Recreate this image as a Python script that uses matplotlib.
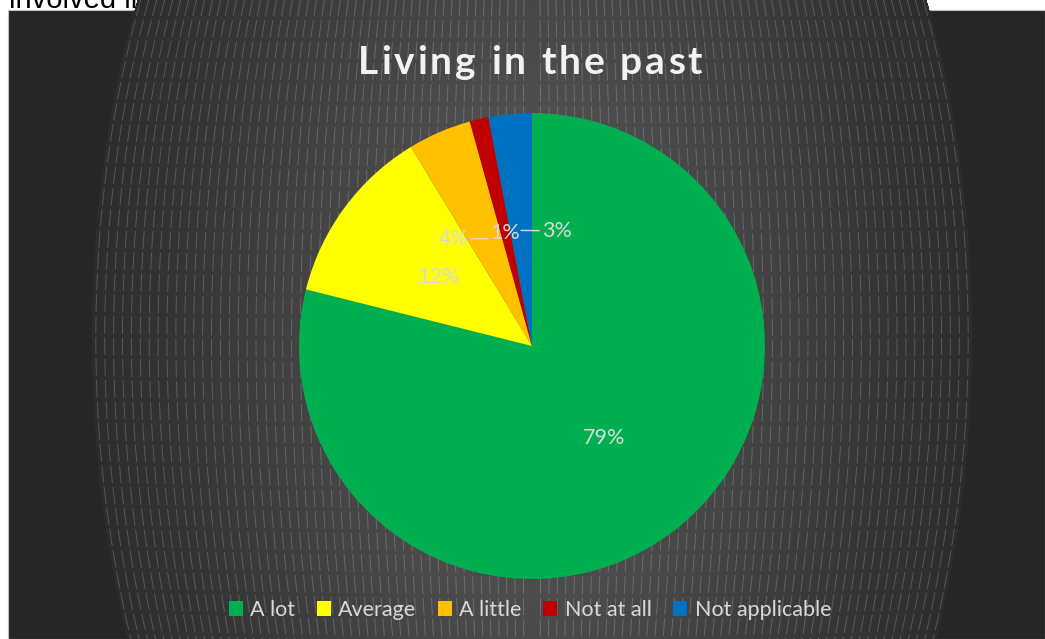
import matplotlib.pyplot as plt
import matplotlib.patches as mpatches
from matplotlib.font_manager import FontProperties
import numpy as np

# survey answers, share of respondents (%)
categories = ['A lot', 'Average', 'A little', 'Not at all', 'Not applicable']
shares = [78.9, 12.4, 4.4, 1.3, 3.0]
colors = ['#00B050', '#FFFF00', '#FFC000', '#C00000', '#0070C0']
title = 'Living in the past'

W, H = 1045, 639
fig = plt.figure(figsize=(W / 100, H / 100), dpi=100)
fig.patch.set_facecolor('white')

# background layer in pixel coordinates (y pointing down)
bg = fig.add_axes([0, 0, 1, 1])
bg.set_xlim(0, W)
bg.set_ylim(H, 0)
bg.axis('off')

# bit of the document text sitting above the chart
bg.text(9, 8, 'involved in', color='black', fontsize=21, family='Liberation Sans',
        va='baseline', ha='left', zorder=1)

# chart area
bg.add_patch(mpatches.Rectangle((8, 10), W - 8, H - 10, facecolor='#262626',
                                edgecolor='#bfbfbf', lw=0.8, zorder=2))

# radial gradient ellipse behind the pie
cx, cy, ea, eb = 532, 338, 440, 765
yy, xx = np.mgrid[0:H, 0:W] + 0.5
r = np.sqrt(((xx - cx) / ea) ** 2 + ((yy - cy) / eb) ** 2)
c = (44 + (92 - 44) * np.clip(1 - r, 0, 1)) / 255.0
img = np.zeros((H, W, 4))
img[..., 0] = c
img[..., 1] = c
img[..., 2] = c
img[..., 3] = (r <= 1).astype(float)
bg.imshow(img, extent=[0, W, H, 0], origin='upper', zorder=3, interpolation='bilinear')

# texture: bowed dashed lines following the ellipse shape
ys = np.linspace(-5, H + 5, 400)
g = np.sqrt(np.clip(1 - ((ys - cy) / eb) ** 2, 0, None))
for d in np.arange(9, ea, 8.9):
    for s in (-1, 1):
        bg.plot(cx + s * d * g, ys, color='white', alpha=0.2, lw=0.7,
                dashes=(18, 4), zorder=4)

# title, drawn letter by letter to get the wide tracking
renderer = fig.canvas.get_renderer()
tprop = FontProperties(family='Lato', weight='bold', size=28)


def text_w(s):
    # width in pixels, measured with a trailing 'x' so spaces count
    w1 = renderer.get_text_width_height_descent(s + 'x', tprop, ismath=False)[0]
    w2 = renderer.get_text_width_height_descent('x', tprop, ismath=False)[0]
    return w1 - w2


track = 3.0
total = text_w(title) + track * (len(title) - 1)
x0 = 530 - total / 2
for i, ch in enumerate(title):
    if ch == ' ':
        continue
    bg.text(x0 + text_w(title[:i]) + track * i, 63, ch, color='#f2f2f2',
            fontproperties=tprop, ha='left', va='center', zorder=6)

# pie
R = 233
pcx, pcy = 532, 346
ax = fig.add_axes([(pcx - R) / W, (H - pcy - R) / H, 2 * R / W, 2 * R / H])
ax.set_facecolor('none')
lprops = dict(color='#d9d9d9', fontsize=15.5, family='Lato')
wedges, texts, autotexts = ax.pie(shares, colors=colors, startangle=90, counterclock=False,
                                  autopct='%.0f%%', pctdistance=0.5,
                                  wedgeprops=dict(linewidth=0), textprops=lprops)
ax.set_xlim(-1, 1)
ax.set_ylim(-1, 1)
ax.axis('off')

# small slices: labels pulled up with leader lines
label_pos = {2: (-0.335, 0.459), 3: (-0.115, 0.485), 4: (0.107, 0.494)}
leader_to = {2: (-0.19, 0.461), 4: (-0.047, 0.496)}
for i, (tx, ty) in label_pos.items():
    autotexts[i].set_visible(False)
    lbl = '%.0f%%' % shares[i]
    if i in leader_to:
        ax.annotate(lbl, xy=leader_to[i], xytext=(tx, ty), ha='center', va='center',
                    arrowprops=dict(arrowstyle='-', color='#d9d9d9', lw=1.0,
                                    shrinkA=0, shrinkB=0), **lprops)
    else:
        ax.text(tx, ty, lbl, ha='center', va='center', **lprops)

# legend
handles = [mpatches.Patch(facecolor=col, label=cat) for col, cat in zip(colors, categories)]
leg = fig.legend(handles=handles, loc='center', bbox_to_anchor=(530 / W, 1 - 610 / H),
                 ncol=5, frameon=False, fontsize=15.5, handlelength=0.65, handleheight=0.65,
                 handletextpad=0.35, columnspacing=1.0, borderaxespad=0)
for t in leg.get_texts():
    t.set_color('#d9d9d9')
    t.set_family('Lato')

plt.savefig('out.png', dpi=100)
